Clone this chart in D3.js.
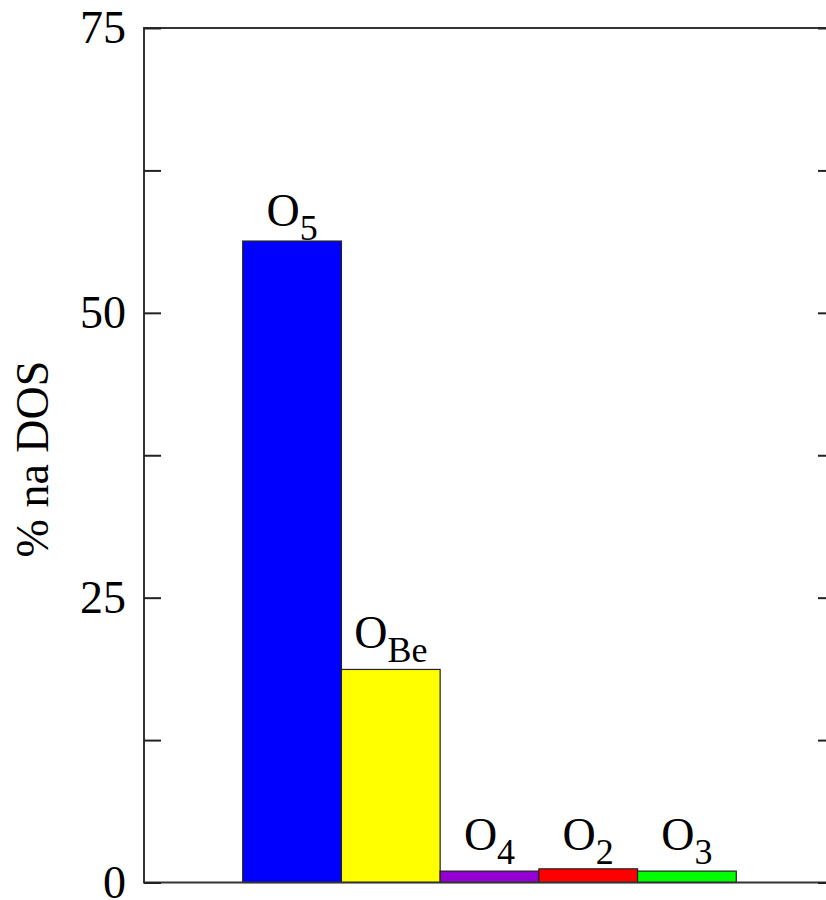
<!DOCTYPE html>
<html>
<head>
<meta charset="utf-8">
<script src="https://d3js.org/d3.v7.min.js"></script>
<style>
  body { margin: 0; background: #fff; }
  text { font-family: "Liberation Serif", "Times New Roman", serif; }
</style>
</head>
<body>
<script>
// data
var names = ["5", "Be", "4", "2", "3"];          // subscripts of O
var values = [56.3, 18.7, 1.0, 1.2, 1.0];        // % na DOS
var colors = ["#0000ff", "#ffff00", "#9400d3", "#ff0000", "#00ff00"];
var labelLevels = [57.6, 20.6, 2.87, 2.87, 2.87]; // baseline of the O labels, data units
var majorTicks = [0, 25, 50, 75];
var minorTicks = [12.5, 37.5, 62.5];

var W = 826, H = 900;
var plotL = 144, plotR = 835, plotT = 28, plotB = 882.5;

var svg = d3.select("body").append("svg")
    .attr("width", W)
    .attr("height", H);

var x = d3.scaleLinear().domain([0, 7]).range([plotL, plotR]);
var y = d3.scaleLinear().domain([0, 75]).range([plotB, plotT]);

// bars
svg.append("g")
  .selectAll("rect")
  .data(values)
  .enter()
  .append("rect")
  .attr("x", (d, i) => x(i + 1))
  .attr("width", x(2) - x(1))
  .attr("y", d => y(d))
  .attr("height", d => y(0) - y(d))
  .attr("fill", (d, i) => colors[i])
  .attr("stroke", "#222")
  .attr("stroke-width", 1.2);

// labels O_x
var lab = svg.append("g")
  .selectAll("text")
  .data(names)
  .enter()
  .append("text")
  .attr("x", (d, i) => x(i + 1.5))
  .attr("y", (d, i) => y(labelLevels[i]))
  .attr("text-anchor", "middle")
  .attr("font-size", 46);
lab.append("tspan").text("O");
lab.append("tspan")
  .attr("dy", 14)
  .attr("font-size", 36)
  .text(d => d);

// frame
svg.append("rect")
  .attr("x", plotL).attr("y", plotT)
  .attr("width", plotR - plotL).attr("height", plotB - plotT)
  .attr("fill", "none")
  .attr("stroke", "#333")
  .attr("stroke-width", 2);

// left axis, ticks inside
var yAxis = d3.axisLeft(y)
  .tickValues(majorTicks)
  .tickSizeInner(-17)
  .tickSizeOuter(0)
  .tickPadding(18);
var gl = svg.append("g")
  .attr("transform", "translate(" + plotL + ",0)")
  .call(yAxis);
gl.select(".domain").remove();
gl.selectAll("text")
  .attr("font-family", "Liberation Serif, Times New Roman, serif")
  .attr("font-size", 46)
  .attr("fill", "#000");
gl.selectAll("line").attr("stroke", "#222").attr("stroke-width", 2);

var gm = svg.append("g")
  .attr("transform", "translate(" + plotL + ",0)")
  .call(d3.axisLeft(y).tickValues(minorTicks).tickSizeInner(-17).tickSizeOuter(0).tickFormat(""));
gm.select(".domain").remove();
gm.selectAll("line").attr("stroke", "#222").attr("stroke-width", 2);

// right axis, ticks inside
var gr = svg.append("g")
  .attr("transform", "translate(" + plotR + ",0)")
  .call(d3.axisRight(y).tickValues(majorTicks.concat(minorTicks)).tickSizeInner(-17).tickSizeOuter(0).tickFormat(""));
gr.select(".domain").remove();
gr.selectAll("line").attr("stroke", "#222").attr("stroke-width", 2);

// y title
svg.append("text")
  .attr("transform", "translate(48," + 459 + ") rotate(-90)")
  .attr("text-anchor", "middle")
  .attr("font-size", 46)
  .text("% na DOS");
</script>
</body>
</html>
